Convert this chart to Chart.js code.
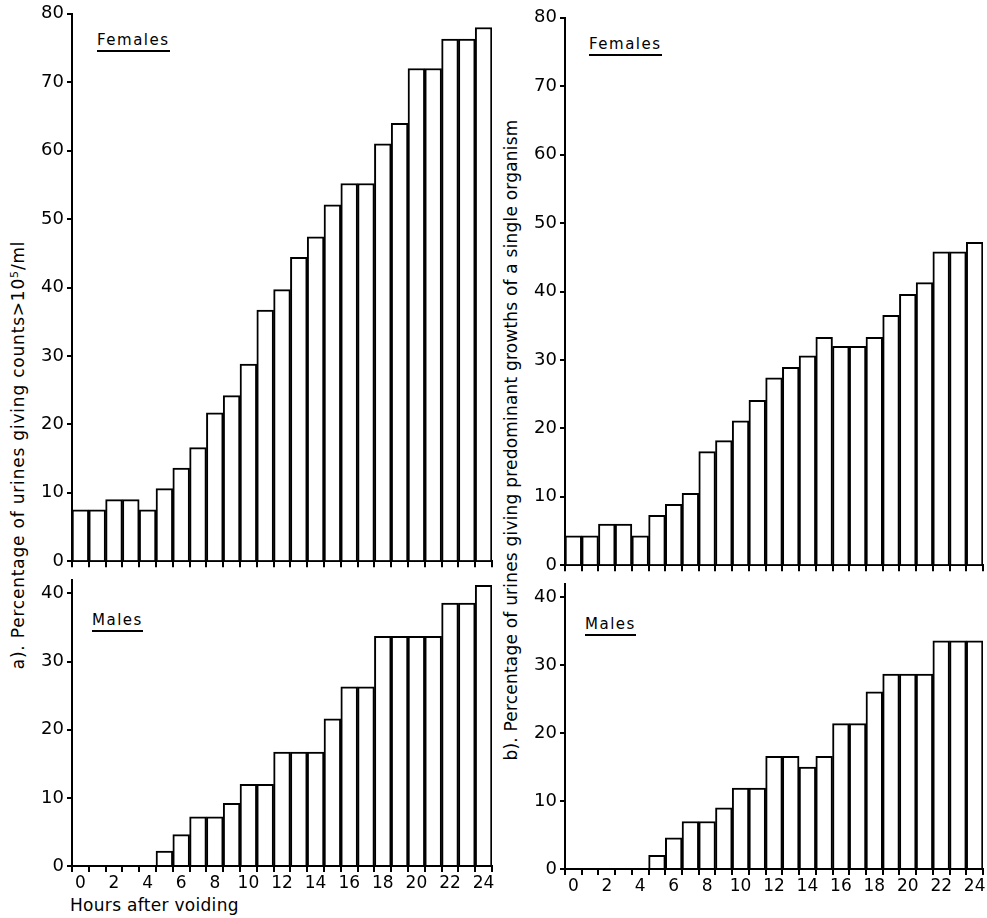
<!DOCTYPE html>
<html>
<head>
<meta charset="utf-8">
<script src="https://cdn.jsdelivr.net/npm/chart.js@4.4.0/dist/chart.umd.min.js"></script>
<style>
  body { margin: 0; background: #fff; width: 987px; height: 918px; position: relative; overflow: hidden; font-family: "DejaVu Sans", sans-serif; color: #000; }
  .panel { position: absolute; }
  .tag { position: absolute; font-size: 15px; letter-spacing: 1.5px; border-bottom: 2px solid #000; line-height: 15px; padding-bottom: 2px; }
  .ytitle { position: absolute; font-size: 17px; white-space: nowrap; transform: translate(-50%, -50%) rotate(-90deg); }
  .xtitle { position: absolute; font-size: 17px; letter-spacing: 0.3px; }
</style>
</head>
<body>

<div class="ytitle" style="left:18px; top:455px; letter-spacing:0.8px;">a). Percentage of urines giving counts&gt;10<sup style="font-size:11px">5</sup>/ml</div>
<div class="ytitle" style="left:511px; top:440px; letter-spacing:0.2px;">b). Percentage of urines giving predominant growths of a single organism</div>

<div class="tag" style="left:97px; top:33px;">Females</div>
<div class="tag" style="left:92px; top:613px;">Males</div>
<div class="tag" style="left:589px; top:37px;">Females</div>
<div class="tag" style="left:585px; top:617px;">Males</div>

<div class="xtitle" style="left:70px; top:895px;">Hours after voiding</div>

<div class="panel" style="left:20px; top:0px;"><canvas id="femalesA" width="476" height="575"></canvas></div>
<div class="panel" style="left:20px; top:566px;"><canvas id="malesA" width="476" height="345"></canvas></div>
<div class="panel" style="left:513px; top:4px;"><canvas id="femalesB" width="474" height="575"></canvas></div>
<div class="panel" style="left:513px; top:570px;"><canvas id="malesB" width="474" height="344"></canvas></div>

<script>
// hours after voiding, 0..24
var hours = ['0','1','2','3','4','5','6','7','8','9','10','11','12','13','14','15','16','17','18','19','20','21','22','23','24'];

// a) counts > 10^5/ml
var femalesA = [7.5, 7.5, 9.0, 9.0, 7.5, 10.6, 13.6, 16.6, 21.7, 24.2, 28.8, 36.7, 39.7, 44.4, 47.4, 52.1, 55.2, 55.2, 61.0, 64.0, 72.0, 72.0, 76.3, 76.3, 78.0];
var malesA = [0, 0, 0, 0, 0, 2.2, 4.6, 7.2, 7.2, 9.2, 12.0, 12.0, 16.7, 16.7, 16.7, 21.6, 26.3, 26.3, 33.7, 33.7, 33.7, 33.7, 38.6, 38.6, 41.2];

// b) predominant growths of a single organism
var femalesB = [4.3, 4.3, 6.0, 6.0, 4.3, 7.3, 8.9, 10.5, 16.6, 18.2, 21.1, 24.1, 27.4, 28.9, 30.6, 33.3, 32.0, 32.0, 33.3, 36.5, 39.6, 41.3, 45.8, 45.8, 47.2];
var malesB = [0, 0, 0, 0, 0, 2.0, 4.6, 7.0, 7.0, 9.0, 11.9, 11.9, 16.6, 16.6, 15.0, 16.6, 21.4, 21.4, 26.1, 28.7, 28.7, 28.7, 33.6, 33.6, 33.6];

var font = { family: 'DejaVu Sans', size: 17 };

function makePanel(id, values, yMax, showLabels) {
    var el = document.getElementById(id);
    return new Chart(el, {
        type: 'bar',
        data: {
            labels: hours,
            datasets: [{
                data: values,
                backgroundColor: '#fff',
                borderColor: '#000',
                borderWidth: 2,
                categoryPercentage: 1.0,
                barPercentage: 1.0
            }]
        },
        options: {
            responsive: false,
            devicePixelRatio: 1,
            animation: false,
            layout: { padding: { top: 12, right: 4, left: 0, bottom: 0 } },
            plugins: {
                legend: { display: false },
                tooltip: { enabled: false }
            },
            scales: {
                x: {
                    grid: { drawOnChartArea: false, color: '#000', lineWidth: 2, tickLength: 6 },
                    border: { color: '#000', width: 2 },
                    ticks: {
                        display: showLabels,
                        autoSkip: false,
                        maxRotation: 0,
                        color: '#000',
                        font: font,
                        padding: 1,
                        callback: function(v, i) { return i % 2 === 0 ? hours[i] : ''; }
                    },
                    afterFit: function(s) { s.height = showLabels ? 45 : 12; }
                },
                y: {
                    min: 0,
                    max: yMax,
                    grid: { drawOnChartArea: false, color: '#000', lineWidth: 2, tickLength: 5 },
                    border: { color: '#000', width: 2 },
                    ticks: {
                        stepSize: 10,
                        includeBounds: false,
                        color: '#000',
                        font: { family: 'DejaVu Sans', size: 18 },
                        padding: 3
                    },
                    afterFit: function(s) { s.width = 52; }
                }
            }
        }
    });
}

makePanel('femalesA', femalesA, 80, false);
makePanel('malesA', malesA, 42, true);
makePanel('femalesB', femalesB, 80, false);
makePanel('malesB', malesB, 42, true);
</script>
</body>
</html>
